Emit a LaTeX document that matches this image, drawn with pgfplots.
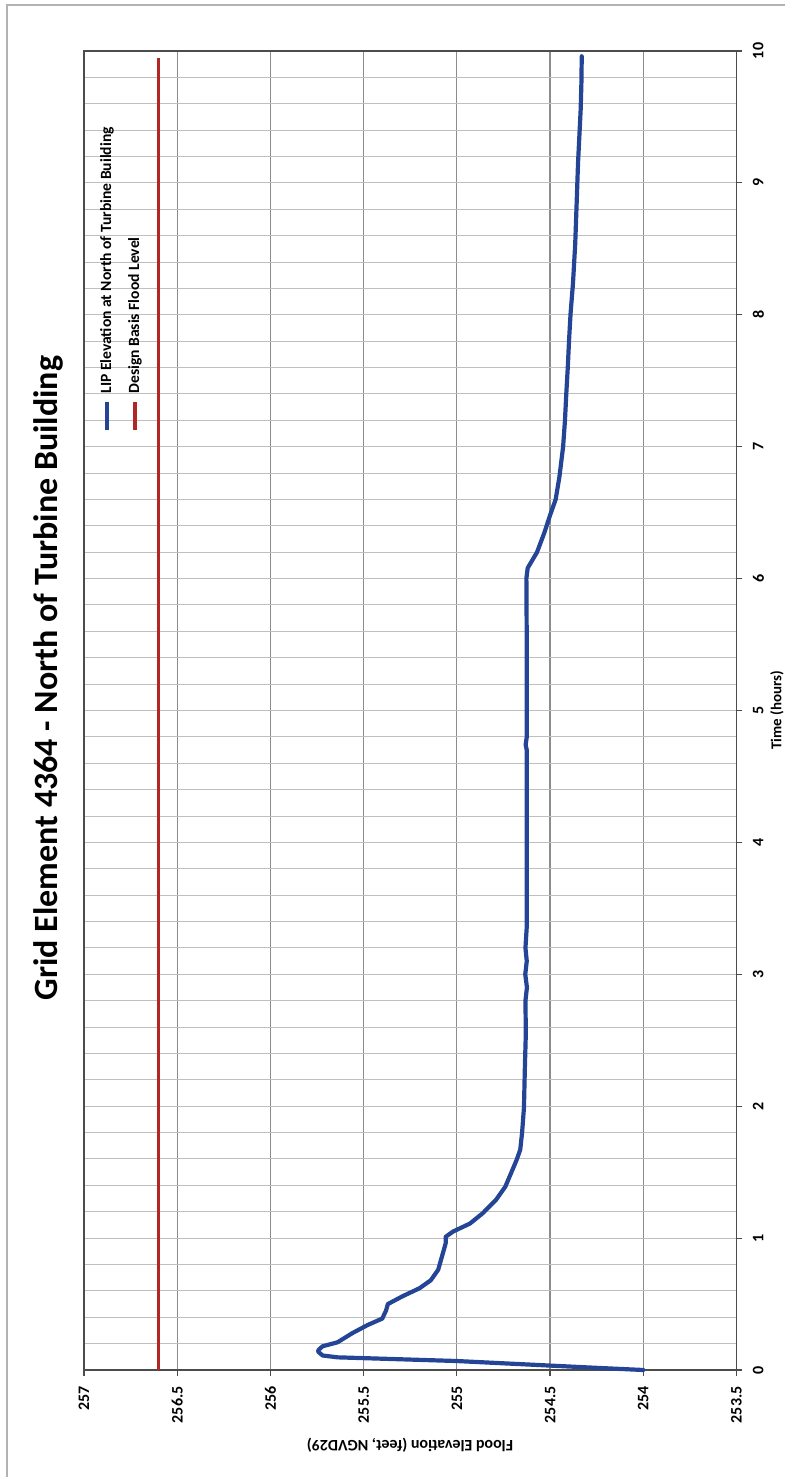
\documentclass[border=0pt]{standalone}
\usepackage{pgfplots}
\pgfplotsset{compat=1.18}
\usepackage{fontspec}
\setmainfont{Carlito}
\definecolor{lipblue}{RGB}{36,68,150}
\definecolor{dbred}{RGB}{178,38,38}
\definecolor{gridgray}{RGB}{140,140,140}
\begin{document}
\begin{tikzpicture}
\begin{axis}[
  name=ax,
  at={(0,0)}, anchor=south west,
  scale only axis,
  width=326.25pt, height=659.5pt,
  x dir=reverse,
  xmin=253.5, xmax=257, ymin=0, ymax=10,
  xtick={253.5,254,254.5,255,255.5,256,256.5,257},
  xticklabels={253.5,254,254.5,255,255.5,256,256.5,257},
  ytick={0,1,2,3,4,5,6,7,8,9,10},
  yticklabels={0,1,2,3,4,5,6,7,8,9,10},
  minor y tick num=4,
  grid=both,
  major grid style={line width=0.6pt},
  minor grid style={line width=0.5pt},
  x grid style={draw=gridgray},
  y grid style={draw=gray!50},
  axis line style={draw=gray!60!black, line width=0.8pt},
  tick style={draw=gray!60!black, line width=0.6pt},
  minor tick length=0pt,
  major tick length=3pt,
  tick align=outside,
  xtick pos=bottom,
  ytick pos=right,
  xticklabel style={rotate=90, anchor=east, inner sep=0pt, font=\bfseries\fontsize{8}{9}\selectfont},
  yticklabel style={rotate=90, anchor=north, inner sep=0pt, font=\bfseries\fontsize{8}{9}\selectfont},
  xticklabel shift=5pt,
  yticklabel shift=5pt,
  clip=false,
]
\addplot[dbred, line width=1.6pt] coordinates {(256.6,0) (256.6,9.95)};
\addplot[lipblue, line width=2.1pt, line join=round, line cap=round] coordinates {
(254.0,0) (254.23,0.015) (254.45,0.03) (255.0,0.068) (255.34,0.083) (255.64,0.096)
(255.72,0.11) (255.745,0.14) (255.74,0.155) (255.72,0.18) (255.64,0.21) (255.56,0.28)
(255.48,0.34) (255.40,0.39) (255.38,0.45) (255.37,0.50) (255.29,0.56) (255.20,0.62)
(255.14,0.68) (255.10,0.76) (255.08,0.86) (255.06,0.96) (255.06,1.01) (255.02,1.05)
(254.93,1.11) (254.86,1.19) (254.79,1.29) (254.74,1.39) (254.71,1.49) (254.68,1.59)
(254.66,1.67) (254.65,1.8) (254.64,1.99) (254.635,2.3) (254.63,2.55) (254.632,2.8)
(254.624,2.9) (254.633,3.0) (254.625,3.1) (254.632,3.2) (254.625,3.36) (254.625,3.8)
(254.625,4.3) (254.625,4.7) (254.631,4.74) (254.625,4.8) (254.625,5.5) (254.627,6.0)
(254.62,6.08) (254.57,6.20) (254.53,6.35) (254.50,6.48) (254.47,6.60) (254.45,6.77)
(254.43,7.0) (254.42,7.2) (254.413,7.4) (254.405,7.6) (254.398,7.81) (254.39,8.01)
(254.377,8.24) (254.365,8.54) (254.358,8.82) (254.35,9.15) (254.343,9.35) (254.336,9.55)
(254.332,9.75) (254.33,9.96)};
\end{axis}
% legend
\draw[lipblue, line width=1.6pt] (11.5pt,470pt) -- (11.5pt,484pt);
\node[rotate=90, anchor=west, inner sep=0pt, font=\bfseries\fontsize{7.8}{9}\selectfont] at (11.5pt,488pt) {LIP Elevation at North of Turbine Building};
\draw[dbred, line width=1.6pt] (25.5pt,470pt) -- (25.5pt,484pt);
\node[rotate=90, anchor=west, inner sep=0pt, font=\bfseries\fontsize{7.8}{9}\selectfont] at (25.5pt,488pt) {Design Basis Flood Level};
% titles
\node[rotate=90, font=\bfseries\fontsize{17}{20}\selectfont] at (-18pt,346pt) {Grid Element 4364 - North of Turbine Building};
\node[rotate=180, font=\bfseries\fontsize{8}{9.6}\selectfont] at (163pt,-37.5pt) {Flood Elevation (feet, NGVD29)};
\node[rotate=90, inner sep=0pt, anchor=south, font=\bfseries\fontsize{7.5}{9}\selectfont] at (350pt,330pt) {Time (hours)};
% chart area frame
\draw[gray!60, line width=0.8pt] (-38.5pt,-80pt) -- (-38.5pt,682.5pt) -- (400pt,682.5pt);
\pgfresetboundingbox
\path[use as bounding box] (-42pt,-53.5pt) rectangle (350.5pt,685pt);
\end{tikzpicture}
\end{document}
